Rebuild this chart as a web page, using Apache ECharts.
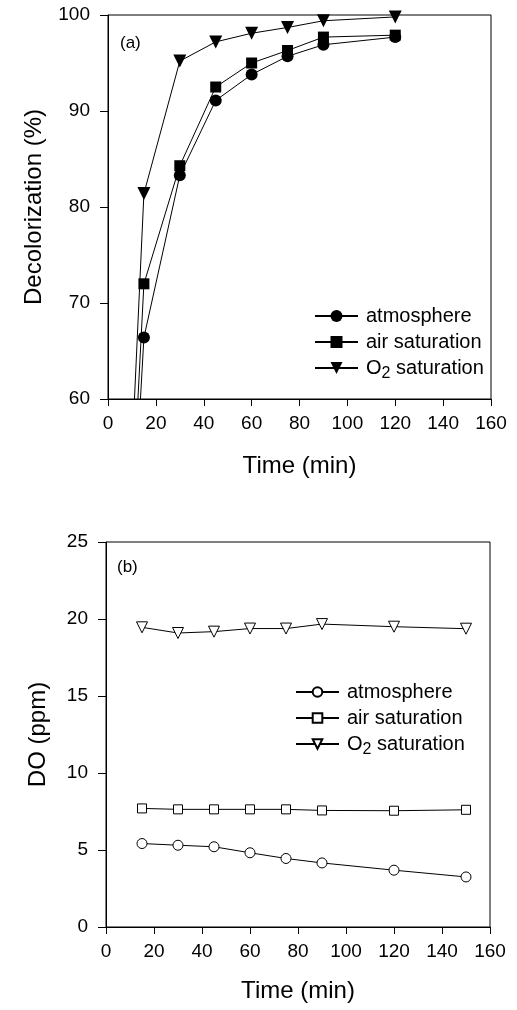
<!DOCTYPE html>
<html>
<head>
<meta charset="utf-8">
<script src="https://cdn.jsdelivr.net/npm/echarts@6/dist/echarts.min.js"></script>
<style>
  html, body { margin: 0; padding: 0; background: #fff; }
  #chart { width: 517px; height: 1010px; }
</style>
</head>
<body>
<div id="chart"></div>
<script>
// panel (a): decolorization (%) vs time (min)
var timeA = [0, 15, 30, 45, 60, 75, 90, 120];
var decolAtmosphere = [0, 66.4, 83.3, 91.1, 93.8, 95.7, 96.9, 97.7];
var decolAirSat = [0, 72.0, 84.3, 92.5, 95.0, 96.3, 97.7, 97.9];
var decolO2Sat = [0, 81.4, 95.2, 97.2, 98.1, 98.7, 99.4, 99.8];

// panel (b): DO (ppm) vs time (min)
var timeB = [15, 30, 45, 60, 75, 90, 120, 150];
var doAtmosphere = [5.42, 5.31, 5.21, 4.82, 4.45, 4.16, 3.69, 3.25];
var doAirSat = [7.70, 7.64, 7.64, 7.64, 7.64, 7.57, 7.55, 7.61];
var doO2Sat = [19.46, 19.09, 19.18, 19.38, 19.38, 19.67, 19.50, 19.37];

var seriesNames = ['atmosphere', 'air saturation', 'O2 saturation'];

var FONT = '"Liberation Sans", Arial, sans-serif';

function pairs(xs, ys) {
	var out = [];
	for (var i = 0; i < xs.length; i++) {
		out.push([xs[i], ys[i]]);
	}
	return out;
}

function legendText(name) {
	var label = name.split('|')[1];
	if (label === 'O2 saturation') {
		return '{t|O}{sub|2}{t| saturation}';
	}
	return '{t|' + label + '}';
}

function xAxisCfg(gridIndex, nameGap) {
	return {
		type: 'value', gridIndex: gridIndex, min: 0, max: 160, interval: 20,
		name: 'Time (min)', nameLocation: 'middle', nameGap: nameGap,
		nameTextStyle: { fontFamily: FONT, fontSize: 24, color: '#000' },
		axisLine: { show: true, onZero: false, lineStyle: { color: '#000', width: 1 } },
		axisTick: { show: true, inside: false, length: 7, lineStyle: { color: '#000' } },
		axisLabel: { fontFamily: FONT, fontSize: 19, color: '#000', margin: 15 },
		splitLine: { show: false }
	};
}

function yAxisCfg(gridIndex, name, min, max, interval, nameGap) {
	return {
		type: 'value', gridIndex: gridIndex, min: min, max: max, interval: interval,
		name: name, nameLocation: 'middle', nameGap: nameGap,
		nameTextStyle: { fontFamily: FONT, fontSize: 24, color: '#000' },
		axisLine: { show: true, onZero: false, lineStyle: { color: '#000', width: 1 } },
		axisTick: { show: true, inside: false, length: 8, lineStyle: { color: '#000' } },
		axisLabel: { fontFamily: FONT, fontSize: 19, color: '#000', margin: 18 },
		splitLine: { show: false }
	};
}

function lineSeries(name, idx, data, symbol, size, rotate, filled) {
	return {
		name: name, type: 'line', xAxisIndex: idx, yAxisIndex: idx,
		data: data, symbol: symbol, symbolSize: size, symbolRotate: rotate,
		clip: true, animation: false,
		lineStyle: { color: '#000', width: 1 },
		itemStyle: filled
			? { color: '#000', borderColor: '#000', borderWidth: 0 }
			: { color: '#fff', borderColor: '#000', borderWidth: 1 },
		emphasis: { disabled: true }
	};
}

// one legend block; names is a subset of seriesNames
function legendCfg(prefix, names, left, top, itemHeight) {
	return {
		orient: 'vertical', left: left, top: top,
		itemWidth: 43, itemHeight: itemHeight, itemGap: 6,
		selectedMode: false,
		data: names.map(function (n) { return prefix + '|' + n; }),
		formatter: legendText,
		textStyle: {
			fontFamily: FONT, color: '#000', padding: [0, 0, 0, 3],
			rich: {
				t: { fontFamily: FONT, fontSize: 20, color: '#000', lineHeight: 20 },
				sub: { fontFamily: FONT, fontSize: 16, color: '#000', lineHeight: 8, padding: [12, 0, 0, 0] }
			}
		}
	};
}

var chart = echarts.init(document.getElementById('chart'), null, { renderer: 'canvas' });

chart.setOption({
	backgroundColor: '#fff',
	animation: false,
	grid: [
		{ left: 108, top: 15, width: 383, height: 384, show: true, borderColor: '#000', borderWidth: 1, backgroundColor: 'transparent' },
		{ left: 106, top: 542, width: 384, height: 385, show: true, borderColor: '#000', borderWidth: 1, backgroundColor: 'transparent' }
	],
	xAxis: [xAxisCfg(0, 55), xAxisCfg(1, 52)],
	yAxis: [
		yAxisCfg(0, 'Decolorization (%)', 60, 100, 10, 62),
		yAxisCfg(1, 'DO (ppm)', 0, 25, 5, 56)
	],
	legend: [
		legendCfg('a', seriesNames.slice(0, 2), 309, 301, 15),
		legendCfg('a', seriesNames.slice(2), 309, 349, 15),
		legendCfg('b', seriesNames.slice(0, 2), 290, 677, 12),
		legendCfg('b', seriesNames.slice(2), 290, 725, 12)
	],
	graphic: [
		{ type: 'text', left: 120, top: 35, style: { text: '(a)', font: '17px ' + FONT, fill: '#000' } },
		{ type: 'text', left: 117, top: 559, style: { text: '(b)', font: '17px ' + FONT, fill: '#000' } }
	],
	series: [
		lineSeries('a|atmosphere', 0, pairs(timeA, decolAtmosphere), 'circle', 12, 0, true),
		lineSeries('a|air saturation', 0, pairs(timeA, decolAirSat), 'rect', 11, 0, true),
		lineSeries('a|O2 saturation', 0, pairs(timeA, decolO2Sat), 'triangle', 13, 180, true),
		lineSeries('b|atmosphere', 1, pairs(timeB, doAtmosphere), 'circle', 10, 0, false),
		lineSeries('b|air saturation', 1, pairs(timeB, doAirSat), 'rect', 9, 0, false),
		lineSeries('b|O2 saturation', 1, pairs(timeB, doO2Sat), 'triangle', 11, 180, false)
	]
});
</script>
</body>
</html>
